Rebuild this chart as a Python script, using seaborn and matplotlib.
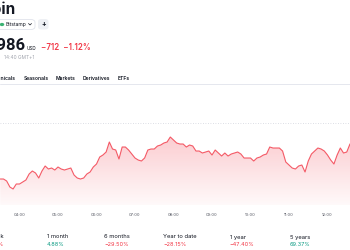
import numpy as np
import pandas as pd
import seaborn as sns
import matplotlib.pyplot as plt
import matplotlib.dates as mdates
from matplotlib.patches import FancyBboxPatch, Circle
from matplotlib.lines import Line2D

# BTC/USD intraday, 5-minute closes
times = pd.date_range("2024-08-05 03:30", periods=111, freq="5min")
prices = [
    61738, 61738, 61668, 61458, 61388, 61563, 61563, 61633, 61703, 61913,
    62018, 61948, 61773, 62018, 62193, 62088, 62123, 62053, 62158, 62088,
    62053, 62088, 62123, 61878, 61773, 61738, 61773, 61913, 61983, 62158,
    62263, 62508, 62578, 62683, 63033, 62788, 62753, 62438, 62858, 62858,
    62753, 62613, 62473, 62403, 62368, 62473, 62753, 62788, 62788, 62893,
    62928, 62998, 63033, 63208, 63103, 62998, 62963, 62963, 62858, 62928,
    62893, 62718, 62718, 62648, 62683, 62718, 62578, 62753, 62648, 62543,
    62648, 62543, 62613, 62648, 62683, 62613, 62473, 62473, 62473, 62368,
    62473, 62508, 62578, 62613, 62858, 62823, 62823, 62823, 62718, 62333,
    62228, 62123, 62088, 62193, 62228, 61983, 62368, 62613, 62718, 62823,
    62788, 62718, 62578, 62403, 62263, 62578, 62823, 62648, 62683, 62963,
    63033,
]
prev_close = 63698
hour_ticks = pd.date_range("2024-08-05 04:00", "2024-08-05 12:00", freq="1h")

periods = ["1 week", "1 month", "6 months", "Year to date", "1 year", "5 years"]
changes = ["−10.76%", "4.88%", "−29.50%", "−28.15%", "−47.40%", "69.37%"]

RED = "#f23645"
GREEN = "#089981"
DARK = "#131722"

sns.set_style("white")
plt.rcParams["font.family"] = ["Inter", "DejaVu Sans"]

W, H = 350, 250
fig = plt.figure(figsize=(3.5, 2.5), dpi=100)
fig.patch.set_facecolor("white")


def ftext(x, y, s, **kw):
    # place text by pixel position (y from top)
    fig.text(x / W, 1 - y / H, s, **kw)


# header (the page is cropped on the left)
ftext(15.5, 13.5, "Bitcoin", fontsize=11, fontweight="bold", color=DARK, va="baseline", ha="right")
badge = FancyBboxPatch((-6 / W, 1 - 29.5 / H), 41 / W, 10 / H,
                       boxstyle="round,pad=0,rounding_size=0.012",
                       transform=fig.transFigure, fc="white", ec="#e0e3eb", lw=0.6)
fig.patches.append(badge)
fig.patches.append(Circle((2 / W, 1 - 24.5 / H), 0.0065, transform=fig.transFigure,
                          fc="#3bb273", ec="none"))
ftext(6, 26.3, "Bitstamp", fontsize=3.6, color=DARK, va="baseline")
fig.lines.append(Line2D([28.5 / W, 30 / W, 31.5 / W], [1 - 23.5 / H, 1 - 25 / H, 1 - 23.5 / H],
                        transform=fig.transFigure, color=DARK, lw=0.5))
plus = FancyBboxPatch((38 / W, 1 - 29.5 / H), 10.5 / W, 10.5 / H,
                      boxstyle="round,pad=0,rounding_size=0.01",
                      transform=fig.transFigure, fc="#eef0f4", ec="none")
fig.patches.append(plus)
ftext(43.3, 24.3, "+", fontsize=5, color=DARK, ha="center", va="center", fontweight="bold")

ftext(25.5, 50, "62,986", fontsize=12, fontweight="bold", color=DARK, va="baseline", ha="right",
      family=["Roboto", "DejaVu Sans"])
ftext(27, 50, "USD", fontsize=3.4, color=DARK, va="baseline")
ftext(41, 49.5, "−712  −1.12%", fontsize=5.7, color=RED, va="baseline", fontweight="semibold")
ftext(4, 59, "14:40 GMT+1", fontsize=3.5, color="#a3a6af", va="baseline")

for lbl, x in zip(["Technicals", "Seasonals", "Markets", "Derivatives", "ETFs"], [16, 24, 56, 83, 117.5]):
    ha = "right" if lbl == "Technicals" else "left"
    ftext(x, 80, lbl, fontsize=3.6, fontweight="semibold", color=DARK, va="baseline", ha=ha)
fig.lines.append(Line2D([0, 1], [1 - 83.5 / H, 1 - 83.5 / H], transform=fig.transFigure,
                        color="#e0e3eb", lw=0.6))

# price chart
ax = fig.add_axes([0, 1 - 205 / H, 1, (205 - 90) / H])
df = pd.DataFrame({"time": times, "price": prices})
sns.lineplot(data=df, x="time", y="price", ax=ax, color=RED, lw=0.8, alpha=0.8)

ymin, ymax = 60828, 64853
t0 = pd.Timestamp("2024-08-05 03:29:37")
t1 = pd.Timestamp("2024-08-05 12:35:04")
ax.set_xlim(t0, t1)
ax.set_ylim(ymin, ymax)

xs = mdates.date2num(df["time"])
poly = ax.fill_between(df["time"], df["price"], ymin, color="none", lw=0)
grad = np.linspace(0, 1, 256).reshape(-1, 1)
rgba = np.zeros((256, 1, 4))
rgba[..., :3] = [0.949, 0.212, 0.271]
rgba[..., 3] = 0.03 + 0.22 * grad
img = ax.imshow(rgba, aspect="auto", origin="lower",
                extent=[xs.min(), xs.max(), ymin, max(prices)], zorder=1)
img.set_clip_path(poly.get_paths()[0], transform=ax.transData)

ax.axhline(prev_close, color="#d1d4dc", lw=0.6, ls=(0, (1, 2)))

ax.set_xticks(hour_ticks)
ax.xaxis.set_major_formatter(mdates.DateFormatter("%H:%M"))
ax.tick_params(axis="x", length=0, labelsize=3, labelcolor="#50535e", pad=6)
ax.set_yticks([])
ax.set_xlabel("")
ax.set_ylabel("")
sns.despine(ax=ax, left=True, bottom=True)

# performance row (first column cropped at the left edge)
for lbl, val, x in zip(periods, changes, [3.5, 47, 104, 163, 229.5, 290]):
    ha = "right" if lbl == "1 week" else "left"
    ftext(x, 238.5, lbl, fontsize=4.2, color=DARK, va="baseline", ha=ha)
    col = GREEN if not val.startswith("−") else RED
    ftext(x, 246, val, fontsize=4.0, color=col, va="baseline", ha=ha)

fig.savefig("out.png", dpi=100)
